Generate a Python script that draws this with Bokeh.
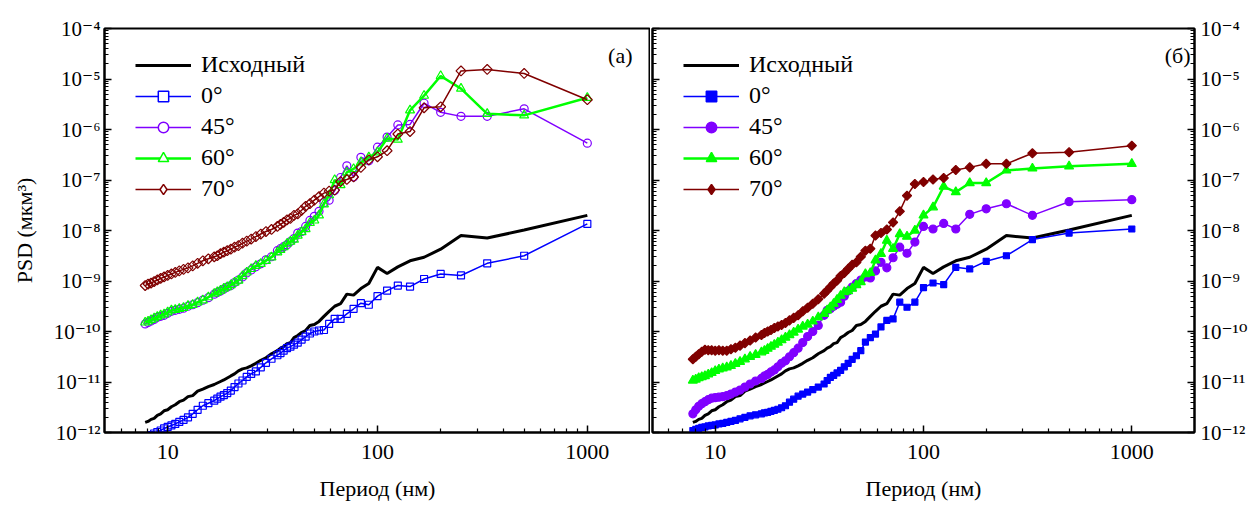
import math
import numpy as np
from bokeh.plotting import figure
from bokeh.models import (ColumnDataSource, FixedTicker, LogAxis, Legend, LegendItem, Label)
from bokeh.layouts import row
from bokeh.embed import file_html
from bokeh.resources import INLINE

FONT = "Liberation Serif"
TICK_FONT = "Liberation Serif, DejaVu Serif"

# ---------------- data (period in nm, PSD stored as log10 of value in um^3) ----------------
PERIOD_NM = [1000, 500, 333.3, 250, 200, 166.7, 142.9, 125, 111.1, 100,
             90.91, 83.33, 76.92, 71.43, 66.67, 62.5, 58.82, 55.56, 52.63, 50,
             47.62, 45.45, 43.48, 41.67, 40, 38.46, 37.04, 35.71, 34.48, 33.33,
             31.25, 29.41, 27.78, 26.32, 25, 23.81, 22.73, 21.74, 20.83, 20,
             19.23, 18.52, 17.86, 17.24, 16.67,
             15.63, 14.71, 13.89, 13.16, 12.5, 11.9, 11.36, 10.87, 10.42, 10,
             9.615, 9.259, 8.929, 8.621, 8.333, 8.065, 7.813]

LOG_ISHODNYI = [-7.70, -7.99, -8.15, -8.10, -8.37, -8.53, -8.60, -8.72, -8.85, -8.73,
                -9.05, -9.15, -9.28, -9.26, -9.45, -9.50, -9.60, -9.70, -9.80, -9.86,
                -9.88, -9.98, -10.02, -10.08, -10.12, -10.22, -10.24, -10.30, -10.33, -10.38,
                -10.44, -10.52, -10.57, -10.63, -10.68, -10.72, -10.74, -10.78, -10.84, -10.88,
                -10.92, -10.96, -10.99, -11.02, -11.05,
                -11.09, -11.14, -11.18, -11.27, -11.29, -11.36, -11.39, -11.45, -11.49, -11.55,
                -11.57, -11.63, -11.66, -11.72, -11.74, -11.78, -11.80]

# panel (a)
LOG_A_0 = [-7.87, -8.50, -8.65, -8.89, -8.86, -8.96, -9.11, -9.09, -9.19, -9.30,
           -9.47, -9.44, -9.55, -9.65, -9.75, -9.75, -9.85, -9.97, -9.98, -10.00,
           -10.04, -10.10, -10.16, -10.22, -10.26, -10.30, -10.33, -10.38, -10.43, -10.47,
           -10.54, -10.62, -10.71, -10.79, -10.84, -10.90, -10.97, -11.03, -11.10, -11.17,
           -11.22, -11.26, -11.29, -11.33, -11.37,
           -11.42, -11.47, -11.55, -11.63, -11.70, -11.75, -11.79, -11.83, -11.86, -11.89,
           -11.92, -11.96, -11.99, -12.02, -12.05, -12.08, -12.10]
LOG_A_45 = [-6.27, -5.59, -5.74, -5.74, -5.66, -5.48, -5.90, -5.91, -6.15, -6.35,
            -6.62, -6.55, -6.94, -6.72, -6.95, -7.21, -7.40, -7.45, -7.62, -7.72,
            -7.80, -7.92, -8.02, -8.05, -8.16, -8.22, -8.28, -8.32, -8.36, -8.40,
            -8.52, -8.58, -8.66, -8.72, -8.78, -8.84, -8.92, -8.98, -9.03, -9.09,
            -9.12, -9.16, -9.20, -9.23, -9.26,
            -9.33, -9.38, -9.43, -9.47, -9.50, -9.54, -9.56, -9.58, -9.60, -9.64,
            -9.68, -9.70, -9.72, -9.76, -9.79, -9.82, -9.85]
LOG_A_60 = [-5.37, -5.72, -5.69, -5.19, -4.94, -5.33, -5.62, -6.20, -6.18, -6.45,
            -6.55, -6.65, -6.78, -6.85, -7.10, -7.00, -7.30, -7.48, -7.70, -7.80,
            -7.85, -7.97, -8.03, -8.10, -8.18, -8.22, -8.26, -8.33, -8.38, -8.43,
            -8.53, -8.60, -8.66, -8.70, -8.76, -8.83, -8.90, -8.99, -9.03, -9.08,
            -9.12, -9.15, -9.19, -9.22, -9.25,
            -9.32, -9.38, -9.42, -9.47, -9.49, -9.53, -9.55, -9.57, -9.58, -9.62,
            -9.66, -9.68, -9.71, -9.74, -9.77, -9.80, -9.82]
LOG_A_70 = [-5.41, -4.89, -4.81, -4.84, -5.55, -5.57, -6.04, -6.09, -6.42, -6.54,
            -6.60, -6.75, -6.94, -6.99, -7.03, -7.20, -7.22, -7.26, -7.33, -7.40,
            -7.47, -7.52, -7.60, -7.67, -7.70, -7.76, -7.79, -7.84, -7.88, -7.92,
            -7.98, -8.02, -8.07, -8.12, -8.17, -8.21, -8.25, -8.30, -8.33, -8.37,
            -8.40, -8.43, -8.46, -8.50, -8.52,
            -8.56, -8.60, -8.65, -8.70, -8.74, -8.77, -8.80, -8.83, -8.86, -8.89,
            -8.92, -8.95, -8.98, -9.01, -9.04, -9.06, -9.09]

# panel (б)
LOG_B_0 = [-7.97, -8.05, -8.18, -8.50, -8.61, -8.76, -8.73, -9.07, -9.04, -9.13,
           -9.42, -9.52, -9.42, -9.75, -9.78, -9.91, -10.05, -10.12, -10.21, -10.38,
           -10.48, -10.55, -10.63, -10.70, -10.77, -10.82, -10.87, -10.91, -10.97, -11.04,
           -11.10, -11.15, -11.20, -11.24, -11.28, -11.34, -11.40, -11.47, -11.51, -11.54,
           -11.56, -11.58, -11.60, -11.61, -11.63,
           -11.65, -11.67, -11.70, -11.73, -11.76, -11.78, -11.80, -11.82, -11.83, -11.85,
           -11.86, -11.87, -11.89, -11.90, -11.92, -11.94, -11.96]
LOG_B_45 = [-7.39, -7.43, -7.70, -7.47, -7.57, -7.68, -7.97, -7.86, -7.97, -7.92,
            -8.23, -8.45, -8.33, -8.54, -8.74, -8.63, -8.80, -8.94, -8.92, -8.98,
            -9.05, -9.12, -9.20, -9.30, -9.42, -9.46, -9.50, -9.55, -9.58, -9.68,
            -9.88, -10.00, -10.10, -10.22, -10.33, -10.42, -10.50, -10.58, -10.63, -10.70,
            -10.76, -10.80, -10.85, -10.88, -10.93,
            -10.98, -11.04, -11.10, -11.16, -11.20, -11.24, -11.27, -11.29, -11.30, -11.31,
            -11.32, -11.35, -11.39, -11.43, -11.48, -11.55, -11.63]
LOG_B_60 = [-6.68, -6.73, -6.77, -6.81, -7.06, -7.06, -7.24, -7.13, -7.54, -7.70,
            -8.00, -8.12, -8.07, -8.36, -8.20, -8.46, -8.59, -8.84, -8.86, -9.02,
            -9.08, -9.15, -9.20, -9.22, -9.29, -9.37, -9.45, -9.52, -9.58, -9.65,
            -9.72, -9.80, -9.86, -9.90, -9.96, -10.02, -10.07, -10.12, -10.17, -10.22,
            -10.26, -10.30, -10.34, -10.38, -10.41,
            -10.46, -10.50, -10.55, -10.60, -10.64, -10.68, -10.71, -10.73, -10.75, -10.78,
            -10.82, -10.85, -10.88, -10.90, -10.92, -10.95, -10.97]
LOG_B_70 = [-6.32, -6.45, -6.47, -6.68, -6.68, -6.75, -6.80, -6.96, -6.99, -7.04,
            -7.08, -7.31, -7.62, -7.84, -7.98, -8.05, -8.10, -8.36, -8.40, -8.52,
            -8.63, -8.68, -8.76, -8.84, -8.90, -8.99, -9.05, -9.12, -9.19, -9.25,
            -9.36, -9.45, -9.53, -9.60, -9.68, -9.73, -9.78, -9.83, -9.87, -9.90,
            -9.93, -9.97, -10.00, -10.03, -10.07,
            -10.12, -10.18, -10.23, -10.28, -10.32, -10.35, -10.38, -10.38, -10.37, -10.38,
            -10.37, -10.37, -10.36, -10.40, -10.45, -10.50, -10.55]

SERIES_NAMES = ["Исходный", "0°", "45°", "60°", "70°"]
SERIES_COLORS = ["#000000", "#0000ff", "#8000ff", "#00ff00", "#800000"]

Y_TICKS = [1e-12, 1e-11, 1e-10, 1e-9, 1e-8, 1e-7, 1e-6, 1e-5, 1e-4]
Y_TICK_LABELS = ["10⁻¹²", "10⁻¹¹", "10⁻¹⁰", "10⁻⁹", "10⁻⁸", "10⁻⁷", "10⁻⁶", "10⁻⁵", "10⁻⁴"]
X_TICKS = [10, 100, 1000]
X_TICK_LABELS = ["10", "100", "1000"]
Y_MINOR = [m * 10.0 ** k for k in range(-12, -4) for m in range(2, 10)]
X_MINOR = [m * 10.0 ** k for k in range(0, 4) for m in range(2, 10) if 5 < m * 10.0 ** k < 2000]


def to_val(logs):
    return [10.0 ** v for v in logs]


def style_axis(ax):
    ax.axis_line_width = 2
    ax.axis_line_color = "black"
    ax.major_tick_in = 7
    ax.major_tick_out = 0
    ax.minor_tick_in = 4
    ax.minor_tick_out = 0
    ax.major_tick_line_width = 1.5
    ax.minor_tick_line_width = 1.2
    ax.major_tick_line_color = "black"
    ax.minor_tick_line_color = "black"
    ax.major_label_text_font = TICK_FONT
    ax.major_label_text_font_size = "21px"
    ax.major_label_text_color = "black"
    ax.axis_label_text_font = FONT
    ax.axis_label_text_font_size = "22px"
    ax.axis_label_text_font_style = "normal"
    ax.axis_label_text_color = "black"


def make_panel(width, mbl, mbr, yloc, filled, logs, tag, tag_x):
    p = figure(width=width, height=503, x_axis_type="log", y_axis_type="log",
               x_range=(5, 2000), y_range=(1e-12, 1e-4),
               output_backend="svg", toolbar_location=None,
               min_border_left=mbl, min_border_right=mbr, min_border_top=28, min_border_bottom=0,
               y_axis_location=yloc, background_fill_color="white", border_fill_color="white")
    p.grid.visible = False
    p.outline_line_color = "black"
    p.outline_line_width = 2

    xa = p.xaxis[0]
    xa.ticker = FixedTicker(ticks=X_TICKS, minor_ticks=X_MINOR)
    xa.major_label_overrides = dict(zip(X_TICKS, X_TICK_LABELS))
    style_axis(xa)
    xa.major_label_text_font = FONT
    xa.major_label_text_font_size = "22px"
    xa.major_label_standoff = 12
    xa.axis_label = "Период (нм)"
    xa.axis_label_standoff = 14

    ya = p.yaxis[0]
    ya.ticker = FixedTicker(ticks=Y_TICKS, minor_ticks=Y_MINOR)
    ya.major_label_overrides = dict(zip(Y_TICKS, Y_TICK_LABELS))
    style_axis(ya)

    # (plot marker, angle, legend marker)
    markers = [None, ("square", 0.0, "square"), ("circle", 0.0, "circle"),
               ("triangle", 0.0, "triangle"), ("square", math.pi / 4, "diamond")]
    if filled:
        sizes = [0, 6, 8, 9, 6.5]
    else:
        sizes = [0, 7, 8, 9, 7]
    leg_sizes = [0, 13, 14, 17, 20]
    widths = [3, 1.5, 1.5, 2.5, 1.5]

    items = []
    for i, (name, color, lg) in enumerate(zip(SERIES_NAMES, SERIES_COLORS, logs)):
        src = ColumnDataSource(dict(x=PERIOD_NM, y=to_val(lg)))
        ln = p.line("x", "y", source=src, line_color=color, line_width=widths[i])
        rends = [ln]
        if markers[i] is not None:
            mk, ang, lmk = markers[i]
            fc = color if filled else None
            p.scatter("x", "y", source=src, marker=mk, angle=ang, size=sizes[i],
                      line_color=color, line_width=1.2, fill_color=fc)
            # legend-only proxy (NaN position, never drawn in the plot area)
            proxy = ColumnDataSource(dict(x=np.array([np.nan]), y=np.array([np.nan])))
            lfc = color if filled else "white"
            lr = p.scatter("x", "y", source=proxy, marker=lmk, size=leg_sizes[i],
                           line_color=color, line_width=1.5, fill_color=lfc)
            rends.append(lr)
        items.append(LegendItem(label=name, renderers=rends))

    legend = Legend(items=items, location=(31, 230), glyph_width=56, glyph_height=26,
                    label_height=26, spacing=4, padding=4, margin=0, label_standoff=10,
                    label_text_font=FONT, label_text_font_size="24px", label_text_color="black",
                    border_line_color=None, background_fill_alpha=0)
    p.add_layout(legend)

    p.add_layout(Label(x=tag_x, y=377, x_units="screen", y_units="screen", text=tag,
                       text_align="right", text_baseline="middle", text_font=FONT,
                       text_font_size="22px", text_color="black"))
    return p


p1 = make_panel(650, 104, 0, "left", False,
                [LOG_ISHODNYI, LOG_A_0, LOG_A_45, LOG_A_60, LOG_A_70], "(a)", 528)
p1.yaxis[0].axis_label = "PSD (мкм³)"
p1.yaxis[0].major_label_standoff = 4
p1.yaxis[0].axis_label_standoff = 14

p2 = make_panel(600, 2, 52, "right", True,
                [LOG_ISHODNYI, LOG_B_0, LOG_B_45, LOG_B_60, LOG_B_70], "(б)", 538)
p2.yaxis[0].major_label_standoff = 6
ax_l = LogAxis(ticker=FixedTicker(ticks=Y_TICKS, minor_ticks=Y_MINOR))
style_axis(ax_l)
ax_l.major_label_overrides = {t: "" for t in Y_TICKS}
ax_l.major_label_text_font_size = "0px"
ax_l.major_label_standoff = 0
p2.add_layout(ax_l, "left")

layout = row(p1, p2)
open("out.html", "w").write(file_html(layout, INLINE))
